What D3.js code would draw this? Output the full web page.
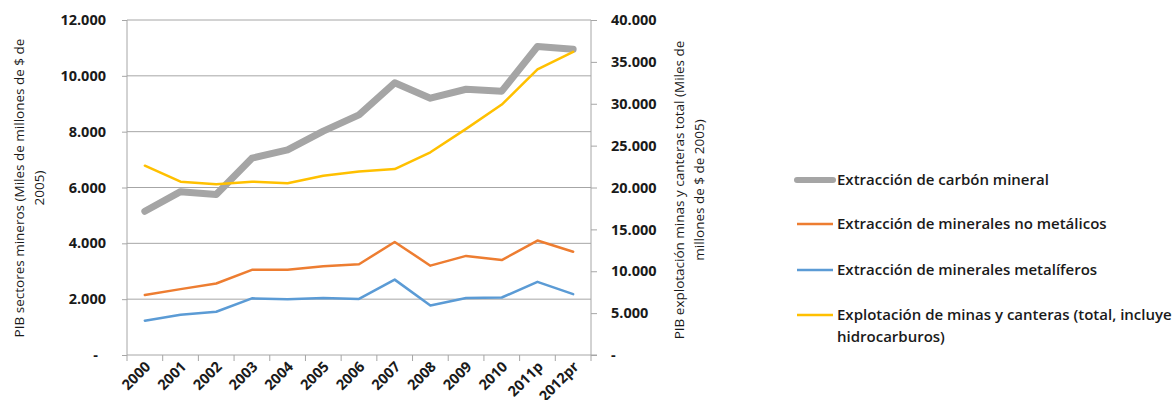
<!DOCTYPE html>
<html>
<head>
<meta charset="utf-8">
<script src="https://cdn.jsdelivr.net/npm/d3@7"></script>
<style>
  html, body { margin: 0; padding: 0; background: #fff; }
  svg { display: block; font-family: "Open Sans", "Noto Sans", sans-serif; }
</style>
</head>
<body>
<svg id="chart" width="1176" height="400"></svg>
<script>
// Years on the category axis
const years = ["2000", "2001", "2002", "2003", "2004", "2005", "2006", "2007", "2008", "2009", "2010", "2011p", "2012pr"];

// Left axis series (miles de millones de $ de 2005)
const carbon = [5150, 5850, 5750, 7050, 7350, 8020, 8600, 9750, 9200, 9520, 9450, 11050, 10950];
const noMetalicos = [2150, 2360, 2560, 3050, 3050, 3180, 3250, 4050, 3200, 3550, 3400, 4100, 3700];
const metaliferos = [1230, 1440, 1550, 2030, 2000, 2040, 2010, 2700, 1770, 2040, 2060, 2620, 2180];

// Right axis series: total mining and quarrying
const totalMinas = [22600, 20700, 20400, 20700, 20500, 21400, 21900, 22200, 24200, 27000, 29900, 34100, 36200];

const leftTicks = [0, 2000, 4000, 6000, 8000, 10000, 12000];
const rightTicks = [0, 5000, 10000, 15000, 20000, 25000, 30000, 35000, 40000];

const series = [
  { name: "Extracción de carbón mineral", values: carbon, axis: "left", color: "#a5a5a5", width: 7 },
  { name: "Extracción de minerales no metálicos", values: noMetalicos, axis: "left", color: "#ed7d31", width: 2.5 },
  { name: "Extracción de minerales metalíferos", values: metaliferos, axis: "left", color: "#5b9bd5", width: 2.5 },
  { name: "Explotación de minas y canteras (total, incluye|hidrocarburos)", values: totalMinas, axis: "right", color: "#ffc000", width: 2.5 }
];

const svg = d3.select("#chart");
const plot = { left: 127, right: 591, top: 20, bottom: 355 };

const x = d3.scaleBand().domain(years).range([plot.left, plot.right]);
const yL = d3.scaleLinear().domain([0, 12000]).range([plot.bottom, plot.top]);
const yR = d3.scaleLinear().domain([0, 40000]).range([plot.bottom, plot.top]);

const fmt = v => v === 0 ? "-" : d3.format(",")(v).replace(/,/g, ".");
const tickFont = 14.5;

// Horizontal gridlines at the left-axis ticks
svg.append("g")
  .selectAll("line")
  .data(leftTicks.filter(d => d > 0))
  .join("line")
  .attr("x1", plot.left).attr("x2", plot.right)
  .attr("y1", d => yL(d)).attr("y2", d => yL(d))
  .attr("stroke", "#a6a6a6").attr("stroke-width", 1);

// Left axis
const gL = svg.append("g").attr("transform", `translate(${plot.left},0)`)
  .call(d3.axisLeft(yL).tickValues(leftTicks).tickFormat(fmt).tickSize(5).tickPadding(16));
gL.select(".domain").attr("stroke", "#a6a6a6").attr("d", `M0,${plot.top}V${plot.bottom}`);
gL.selectAll(".tick line").attr("stroke", "#a6a6a6");
gL.selectAll(".tick text")
  .attr("font-size", tickFont).attr("font-weight", 700).attr("fill", "#1a1a1a")
  .attr("font-family", "'Open Sans', sans-serif")
  .attr("dx", d => d === 0 ? -8 : 0);

// Right axis
const gR = svg.append("g").attr("transform", `translate(${plot.right},0)`)
  .call(d3.axisRight(yR).tickValues(rightTicks).tickFormat(fmt).tickSize(6).tickPadding(14));
gR.select(".domain").attr("stroke", "#a6a6a6").attr("d", `M0,${plot.top}V${plot.bottom}`);
gR.selectAll(".tick line").attr("stroke", "#a6a6a6");
gR.selectAll(".tick text")
  .attr("font-size", tickFont).attr("font-weight", 700).attr("fill", "#1a1a1a")
  .attr("font-family", "'Open Sans', sans-serif");

// Bottom category axis with tick marks between categories
const gB = svg.append("g").attr("transform", `translate(0,${plot.bottom})`);
gB.append("line").attr("x1", plot.left).attr("x2", plot.right + 6)
  .attr("stroke", "#a6a6a6");
const bounds = years.map(y => x(y)).concat([plot.right]);
gB.selectAll("line.tk").data(bounds).join("line").attr("class", "tk")
  .attr("x1", d => d).attr("x2", d => d).attr("y1", 0).attr("y2", 6)
  .attr("stroke", "#a6a6a6");
gB.selectAll("text").data(years).join("text")
  .attr("transform", d => `translate(${x(d) + x.bandwidth() / 2 + 3},${9}) rotate(-45)`)
  .attr("text-anchor", "end")
  .attr("dy", "0.35em")
  .attr("font-size", tickFont).attr("font-weight", 700).attr("fill", "#1a1a1a")
  .text(d => d);

// Lines
const lineFor = s => d3.line()
  .x((d, i) => x(years[i]) + x.bandwidth() / 2)
  .y(d => (s.axis === "left" ? yL : yR)(d));

const drawOrder = [series[0], series[3], series[1], series[2]];
svg.append("g").selectAll("path")
  .data(drawOrder)
  .join("path")
  .attr("d", s => lineFor(s)(s.values))
  .attr("fill", "none")
  .attr("stroke", s => s.color)
  .attr("stroke-width", s => s.width)
  .attr("stroke-linejoin", "round")
  .attr("stroke-linecap", "round");

// Axis titles
svg.append("text")
  .attr("transform", "translate(24,188) rotate(-90)")
  .attr("text-anchor", "middle").attr("font-size", 13.5).attr("fill", "#1a1a1a")
  .selectAll("tspan")
  .data(["PIB sectores mineros (Miles de millones de $ de", "2005)"])
  .join("tspan").attr("x", 0).attr("dy", (d, i) => i === 0 ? 0 : 20).text(d => d);

svg.append("text")
  .attr("transform", "translate(684,190) rotate(-90)")
  .attr("text-anchor", "middle").attr("font-size", 13.5).attr("fill", "#1a1a1a")
  .selectAll("tspan")
  .data(["PIB explotación minas y canteras total (Miles de", "millones de $ de 2005)"])
  .join("tspan").attr("x", 0).attr("dy", (d, i) => i === 0 ? 0 : 20).text(d => d);

// Legend
const legendY = [180, 224, 270, 315];
const lg = svg.append("g");
series.forEach((s, i) => {
  const g = lg.append("g").attr("transform", `translate(797,${legendY[i]})`);
  g.append("line").attr("x1", 0).attr("x2", 36)
    .attr("stroke", s.color).attr("stroke-width", s.width === 7 ? 6 : 2.5)
    .attr("stroke-linecap", s.width === 7 ? "round" : "butt");
  const t = g.append("text").attr("x", 40).attr("dy", "0.35em")
    .attr("font-size", 15).attr("font-weight", 600).attr("fill", "#1a1a1a");
  s.name.split("|").forEach((part, j) => {
    t.append("tspan").attr("x", 40).attr("dy", j === 0 ? "0.35em" : 22).text(part);
  });
});
</script>
</body>
</html>
